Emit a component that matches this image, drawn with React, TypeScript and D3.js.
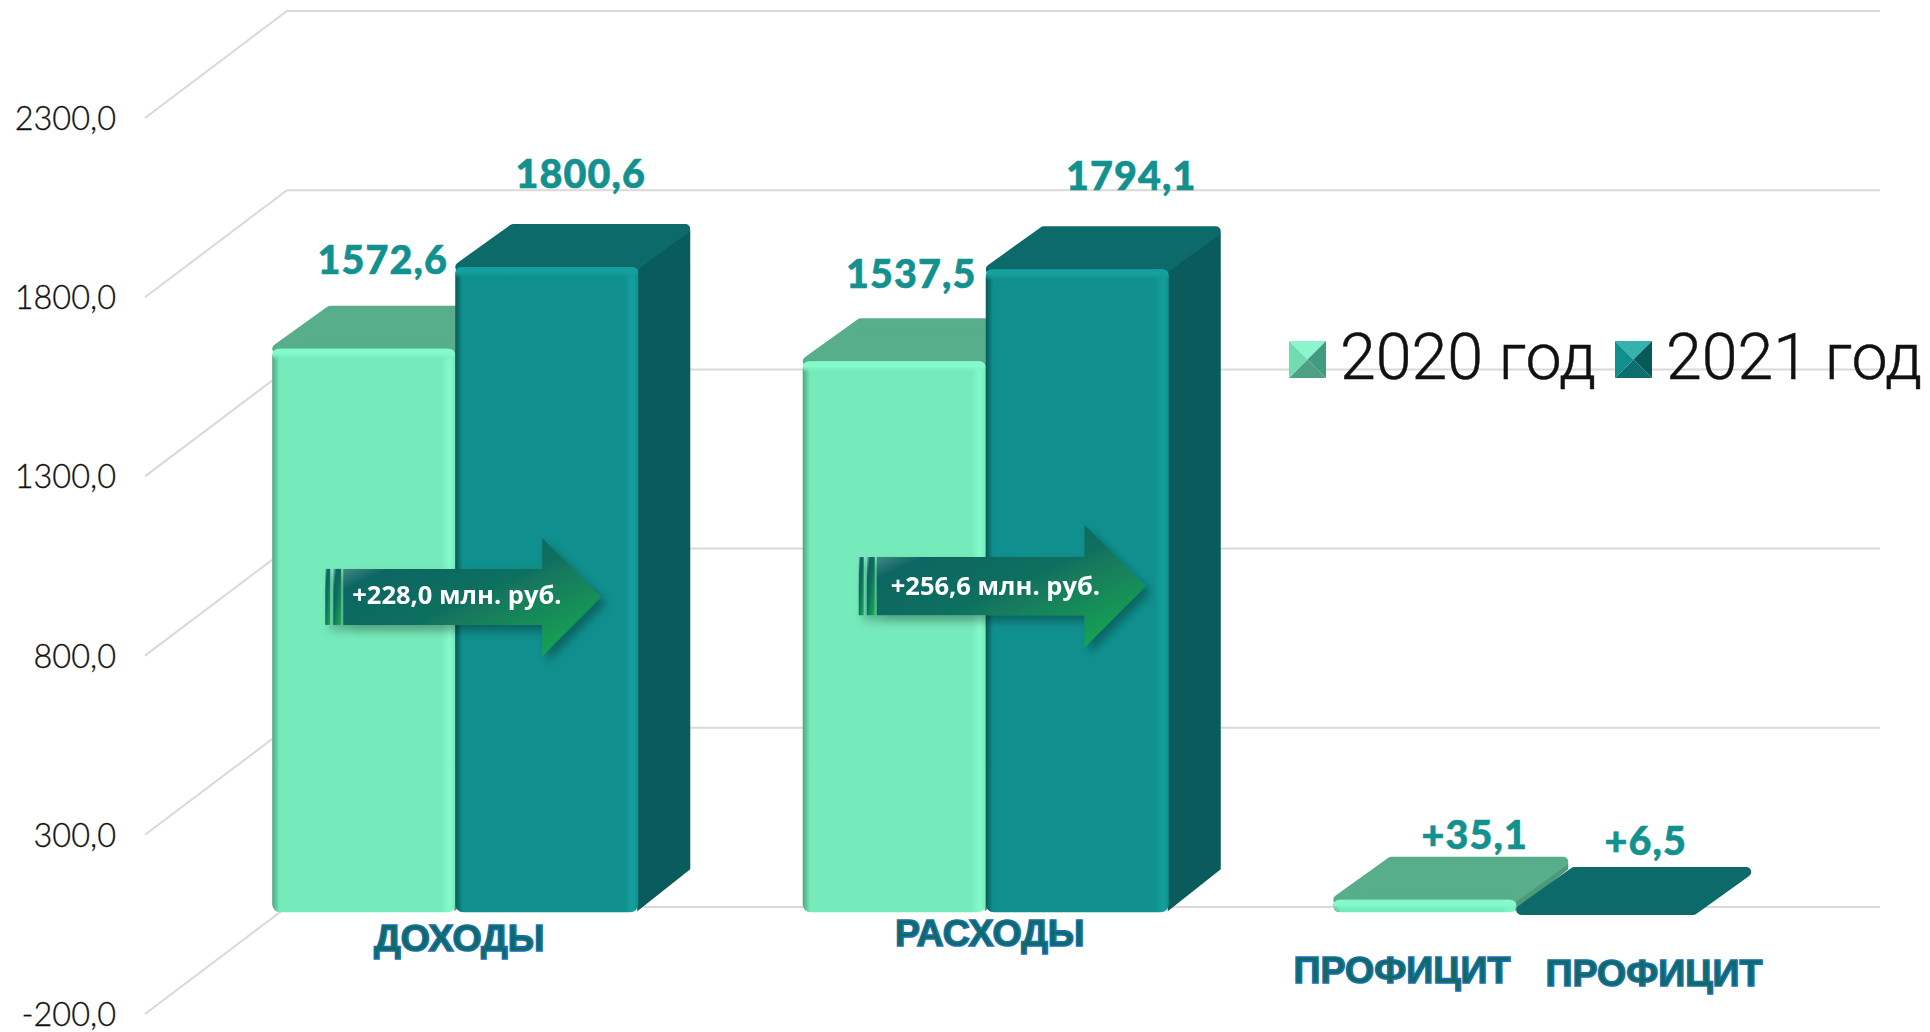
import React from 'react';
import * as d3 from 'd3';

const categories = ['ДОХОДЫ', 'РАСХОДЫ', 'ПРОФИЦИТ'];
const seriesNames = ['2020 год', '2021 год'];
const values2020 = [1572.6, 1537.5, 35.1];
const values2021 = [1800.6, 1794.1, 6.5];
const valueLabels2020 = ['1572,6', '1537,5', '+35,1'];
const valueLabels2021 = ['1800,6', '1794,1', '+6,5'];
const axisTicks = [-200, 300, 800, 1300, 1800, 2300];
const arrowLabels = ['+228,0 млн. руб.', '+256,6 млн. руб.'];

const W = 1930;
const H = 1032;

// задняя стенка
const y = d3.scaleLinear().domain([-200, 2300]).range([907, 11]);
const wallDx = -142;
const wallDy = 107;
const barPlaneDy = 77; // передняя грань столбика относительно стенки
const barDx = 53;
const barDy = -43;
const gridLeft = 287;
const gridRight = 1880;

const x0 = d3.scaleBand<string>().domain(categories).range([190, 1781.5]).paddingInner(0.31).paddingOuter(0.155);
const x1 = d3.scaleBand<string>().domain(seriesNames).range([0, x0.bandwidth()]);

const skins = [
  { id: 'a', front: '#75EABA', top: '#58AD8A', side: '#4C9A7A', edge: '#84F9CA', dark: '#4FA585', values: values2020, labels: valueLabels2020 },
  { id: 'b', front: '#0F8F8D', top: '#0C6B6A', side: '#0A5B5B', edge: '#14A09E', dark: '#075957', values: values2021, labels: valueLabels2021 },
];

// сдвиги подписей значений (по картинке)
const labelNudge = [
  [[19, -32], [17, -30], [50, -8]],
  [[34, -36], [54, -36], [38, -12]],
];
const catLabelPos = [[0, 939], [0, 934]];

const fmtTick = (v: number) => v.toFixed(1).replace('.', ',');
const poly = (pts: number[][]) => d3.line()(pts as [number, number][]) + 'Z';

const textTeal = '#12918F';

function Bar({ s, cat, value, label, nudge }: any) {
  const xL = (x0(cat) as number) + (x1(seriesNames[s]) as number);
  const w = x1.bandwidth();
  const base = y(0) + barPlaneDy;
  const topY = y(value) + barPlaneDy;
  const h = base - topY;
  const k = skins[s];
  const strip = Math.min(12, h);
  const thin = h < 5;
  return (
    <g>
      {thin ? null : (
        <path d={poly([[xL + w - 1, topY + 2], [xL + w + barDx - 1, topY + barDy + 6], [xL + w + barDx - 1, base + barDy], [xL + w - 1, base - 1]])}
          fill={k.side} />
      )}
      <path d={poly([[xL + 5, topY], [xL + barDx + 5, topY + barDy + 5], [xL + w + barDx - 6, topY + barDy + 5], [xL + w - 6, topY]])}
        fill={k.top} stroke={k.top} strokeWidth={10} strokeLinejoin="round" />
      {thin ? null : (
        <>
          <rect x={xL} y={topY} width={w} height={h} rx={Math.min(8, h / 2)} fill={`url(#face-${k.id})`} />
          <rect x={xL} y={topY} width={w} height={strip} rx={Math.min(8, strip / 2)} fill={`url(#cap-${k.id})`} />
        </>
      )}
      <text x={xL + w / 2 + nudge[0]} y={topY + barDy + nudge[1]} textAnchor="middle"
        fontFamily="Lato" fontWeight={900} fontSize={39.5} letterSpacing={1.1} fill={textTeal} stroke={textTeal} strokeWidth={0.6}>{label}</text>
    </g>
  );
}

function Arrow({ cat, level, text, shift, size, textDx, textDy }: any) {
  const left = (x0(cat) as number) + shift;
  const cy = y(level) + barPlaneDy;
  const bodyH = 28 * size;
  const headH = 59 * size;
  const bodyL = left + 18;
  const neck = left + 217 * size;
  const tip = left + 276 * size;
  return (
    <g filter="url(#arrowShadow)">
      <rect x={left} y={cy - bodyH} width={5} height={bodyH * 2} fill="url(#arrowFill)" />
      <rect x={left + 8} y={cy - bodyH} width={8} height={bodyH * 2} fill="url(#arrowFill)" />
      <path d={poly([[bodyL, cy - bodyH], [neck, cy - bodyH], [neck, cy - headH], [tip, cy], [neck, cy + headH], [neck, cy + bodyH], [bodyL, cy + bodyH]])}
        fill="url(#arrowFill)" />
      <text x={left + textDx} y={cy + textDy} fontFamily="'Open Sans'" fontWeight={700} fontSize={25.5} fill="#fff">{text}</text>
    </g>
  );
}

function Swatch({ xPos, fills }: any) {
  const s = 37;
  const t = 341;
  const c = [xPos + s / 2, t + s / 2];
  const corners = [[xPos, t], [xPos + s, t], [xPos + s, t + s], [xPos, t + s]];
  return (
    <g>
      {corners.map((p, i) => (
        <path key={i} d={poly([p, corners[(i + 1) % 4], c])} fill={fills[i]} />
      ))}
    </g>
  );
}

export default function App() {
  return (
    <svg width={W} height={H} viewBox={`0 0 ${W} ${H}`} style={{ position: 'absolute', left: 0, top: 0, display: 'block', background: '#fff' }}>
      <defs>
        {skins.map(k => (
          <React.Fragment key={k.id}>
            <linearGradient id={`face-${k.id}`} x1="0" x2="1" y1="0" y2="0">
              <stop offset="0" stopColor={k.dark} />
              <stop offset="0.04" stopColor={k.front} />
              <stop offset="0.92" stopColor={k.front} />
              <stop offset="0.97" stopColor={k.edge} />
              <stop offset="1" stopColor={k.front} />
            </linearGradient>
            <linearGradient id={`cap-${k.id}`} x1="0" x2="0" y1="0" y2="1">
              <stop offset="0" stopColor={k.edge} />
              <stop offset="0.45" stopColor={k.edge} />
              <stop offset="1" stopColor={k.front} stopOpacity={0} />
            </linearGradient>
          </React.Fragment>
        ))}
        <linearGradient id="arrowFill" x1="0" y1="0" x2="1" y2="1">
          <stop offset="0" stopColor="#8FB9BA" />
          <stop offset="0.22" stopColor="#0E6663" />
          <stop offset="0.5" stopColor="#11705F" />
          <stop offset="1" stopColor="#1BB04F" />
        </linearGradient>
        <filter id="arrowShadow" x="-10%" y="-20%" width="125%" height="145%">
          <feDropShadow dx="5" dy="6" stdDeviation="4" floodColor="#000" floodOpacity="0.3" />
        </filter>
      </defs>

      {axisTicks.map(t => (
        <g key={t}>
          <path d={`M${gridLeft + wallDx},${y(t) + wallDy}L${gridLeft},${y(t)}L${gridRight},${y(t)}`}
            fill="none" stroke="#D9D9D9" strokeWidth={2} />
          <text x={116} y={y(t) + wallDy + 12} textAnchor="end" fontFamily="Lato" fontWeight={300} fontSize={32.5} fill="#111"
            stroke="#111" strokeWidth={0.3}>{fmtTick(t)}</text>
        </g>
      ))}

      {categories.map((cat, i) => (
        <g key={cat}>
          {skins.map((k, s) => (
            <Bar key={k.id} s={s} cat={cat} value={k.values[i]} label={k.labels[i]} nudge={labelNudge[s][i]} />
          ))}
        </g>
      ))}

      <Arrow cat={categories[0]} level={880} text={arrowLabels[0]} shift={53} size={1} textDx={27} textDy={7} />
      <Arrow cat={categories[1]} level={910} text={arrowLabels[1]} shift={56} size={1.04} textDx={32} textDy={9} />

      {catLabelPos.map((p, i) => (
        <text key={i} x={(x0(categories[i]) as number) + x0.bandwidth() / 2 + p[0] + 4} y={p[1] + 12} textAnchor="middle"
          fontFamily="'Liberation Sans'" fontWeight={700} fontSize={37.5} fill="#0F6A5F" stroke="#1A6FB0" strokeWidth={1.6}>{categories[i]}</text>
      ))}
      {[1402, 1654].map((cx, i) => (
        <text key={i} x={cx} y={971 + i * 3 + 12} textAnchor="middle"
          fontFamily="'Liberation Sans'" fontWeight={700} fontSize={37.5} fill="#0F6A5F" stroke="#1A6FB0" strokeWidth={1.6}>{categories[2]}</text>
      ))}

      <Swatch xPos={1289} fills={['#8CF5CE', '#3F9C7E', '#4F9F82', '#6FDDB0']} />
      <text x={1340} y={379} fontFamily="Roboto" fontWeight={300} fontSize={64.5} fill="#111" stroke="#111" strokeWidth={0.5}>{seriesNames[0]}</text>
      <Swatch xPos={1615} fills={['#37B1AE', '#075A58', '#0C6F6E', '#0F8F8D']} />
      <text x={1666} y={379} fontFamily="Roboto" fontWeight={300} fontSize={64.5} fill="#111" stroke="#111" strokeWidth={0.5}>{seriesNames[1]}</text>
    </svg>
  );
}
